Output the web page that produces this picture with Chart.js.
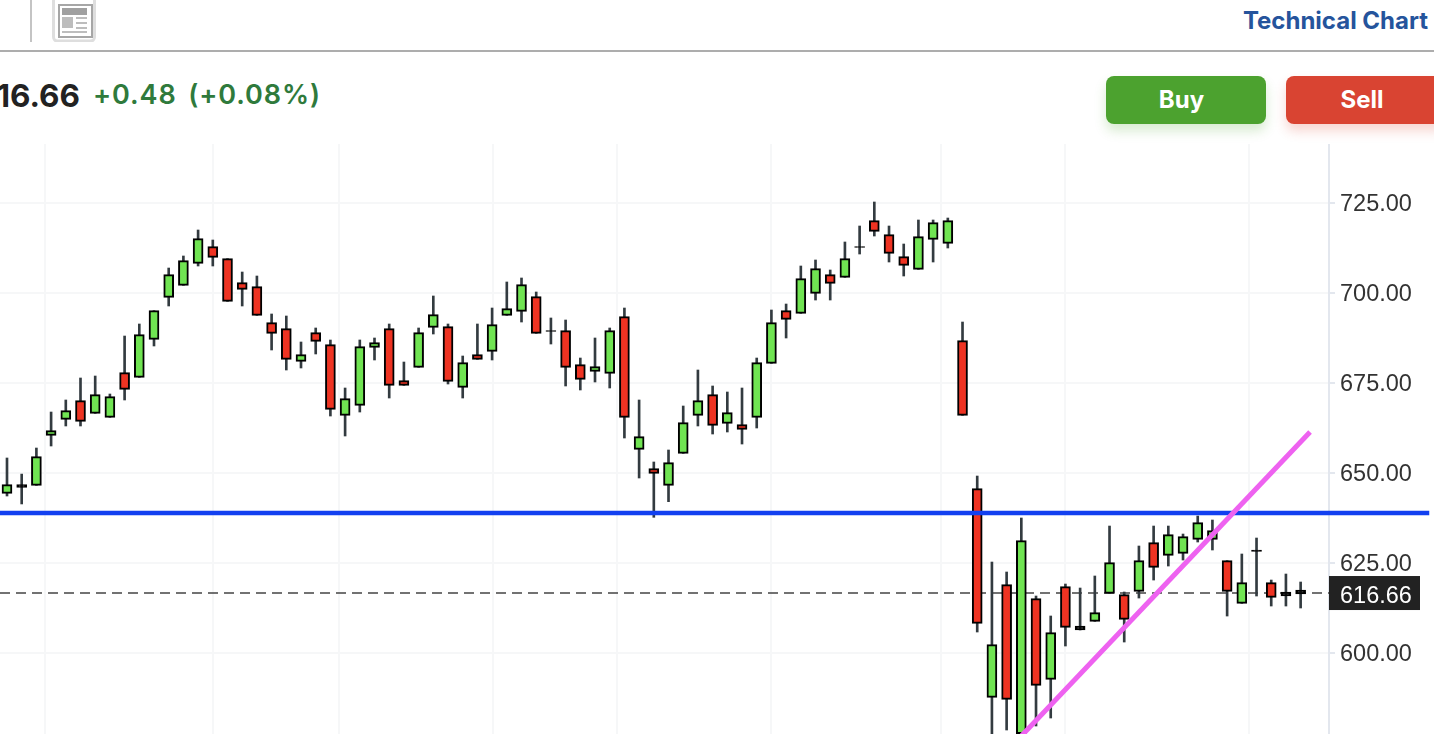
<!DOCTYPE html>
<html>
<head>
<meta charset="utf-8">
<title>Technical Chart</title>
<script src="https://cdn.jsdelivr.net/npm/chart.js@4"></script>
<style>
  html, body { margin: 0; padding: 0; background: #fff; overflow: hidden; width: 1434px; height: 734px; font-family: Inter, sans-serif; }
  .abs { position: absolute; white-space: nowrap; }
  #divider { left: 30px; top: 0; width: 2px; height: 42px; background: #c4c4c4; }
  #icon { left: 52px; top: -4px; width: 44px; height: 46px; }
  #rule { left: 0; top: 50px; width: 1434px; height: 2px; background: #adadad; }
  #title { right: 6px; top: 6px; font-size: 24px; font-weight: 700; color: #25549c; }
  #price { right: 1354px; top: 76px; font-size: 31.5px; font-weight: 700; color: #222; }
  #change { left: 93px; top: 78px; font-size: 27px; font-weight: 600; color: #2f7a3c; letter-spacing: 0.9px; word-spacing: 4px; }
  .btn { top: 76px; height: 48px; line-height: 48px; border-radius: 8px; color: #fff; font-size: 24px; font-weight: 700; text-align: center; }
  #buy { left: 1106px; width: 160px; padding-right: 9px; box-sizing: border-box; background: #4ca22f; box-shadow: 0 7px 12px rgba(76,162,47,.22); }
  #sell { left: 1286px; width: 160px; padding-right: 8px; box-sizing: border-box; background: #d94432; box-shadow: 0 7px 12px rgba(217,68,50,.22); }
  #wrap { left: 0; top: 144px; width: 1434px; height: 590px; }
</style>
</head>
<body>
<div class="abs" id="divider"></div>
<svg class="abs" id="icon" viewBox="0 0 44 46">
  <rect x="1.5" y="1" width="41" height="44" rx="4" fill="#fff" stroke="#dedede" stroke-width="3"/>
  <rect x="7" y="9" width="33" height="32" fill="none" stroke="#a6a6a6" stroke-width="2"/>
  <rect x="10" y="12" width="25" height="7" fill="#a0a0a0"/>
  <rect x="10" y="21" width="11" height="11" fill="#bdbdbd"/>
  <rect x="24" y="21" width="11" height="2" fill="#bdbdbd"/>
  <rect x="24" y="26" width="11" height="2" fill="#bdbdbd"/>
  <rect x="24" y="31" width="11" height="2" fill="#bdbdbd"/>
  <rect x="10" y="35" width="25" height="2" fill="#bdbdbd"/>
</svg>
<div class="abs" id="rule"></div>
<div class="abs" id="title">Technical Chart</div>
<div class="abs" id="price">616.66</div>
<div class="abs" id="change">+0.48 (+0.08%)</div>
<div class="abs btn" id="buy">Buy</div>
<div class="abs btn" id="sell">Sell</div>
<div class="abs" id="wrap"><canvas id="chart" width="1434" height="590"></canvas></div>

<script>
const candleOpen = [644.35,646.76,646.57,660.46,664.91,670.09,666.57,665.46,677.87,676.57,687.13,698.8,702.13,708.24,712.87,709.54,702.87,701.76,691.76,690.09,681.02,688.98,685.65,
  666.02,668.8,684.91,690.09,675.65,679.35,690.46,690.65,673.8,682.87,683.8,693.8,694.91,698.98,689.54,689.54,680.09,678.24,677.68,693.43,656.57,651.2,
  646.57,655.46,666.02,671.76,663.8,663.43,665.46,680.46,695.09,694.35,699.91,705.09,704.35,712.69,720.09,716.2,710.09,706.57,714.91,713.8,686.76,
  645.65,587.68,618.98,577.6,615.09,592.68,618.42,607.5,608.79,616.57,616.2,617.13,630.64,627.13,627.68,631.57,631.57,625.65,613.79,628.61,619.53,616.94,617.5];
const candleHigh = [654.17,649.7,656.94,666.94,670.28,676.39,676.94,671.94,688.05,691.39,695.09,706.94,710.28,717.5,714.72,709.54,705.83,704.72,694.17,693.61,686.39,690.28,686.94,
  673.61,686.95,687.5,691.39,680.83,690.28,699.17,691.39,682.5,691.39,695.83,703.06,704.17,700.28,693.06,692.5,681.94,687.5,690.28,695.83,670.28,653.06,
  656.39,668.61,678.61,674.17,672.5,673.61,681.94,695.28,696.94,707.5,709.17,706.39,714.17,718.61,725.28,718.61,713.61,720.28,720.28,720.83,691.94,
  649.16,625.27,622.5,637.5,615.83,610.28,619.16,618.05,621.39,635.27,616.94,629.72,635.27,635.27,633.05,638.05,636.94,625.65,627.5,631.94,620.27,621.94,619.72];
const candleLow = [643.61,641.4,646.57,657.5,663.06,663.06,666.57,665.46,670.28,676.57,685.28,696.39,702.13,707.5,707.5,697.68,696.39,693.79,684.17,678.61,679.17,683.06,665.83,
  660.28,666.94,681.39,670.83,674.35,679.35,688.61,674.72,670.83,681.57,681.39,693.8,691.94,688.8,685.83,674.17,673.06,675.28,673.61,659.72,648.61,637.69,
  642.04,655.46,663.06,660.83,661.39,658.05,662.5,680.46,687.5,694.35,698.05,698.05,704.35,710.83,715.83,708.61,704.72,706.57,708.61,712.5,666.02,
  605.83,575,578.61,575,579.72,581.94,601.94,606.39,608.79,616.57,603.05,615.27,620.27,624.16,625.83,630.83,628.61,610.27,613.79,615.83,613.05,613.05,612.5];
const candleClose = [646.76,646.0,654.54,661.76,667.31,664.35,671.76,671.2,673.24,688.42,695.09,705.09,708.98,715.09,709.91,697.68,701.02,693.79,688.79,681.57,682.87,686.57,667.68,
  670.65,685.09,686.2,674.35,674.35,688.98,693.98,675.46,680.65,681.57,691.2,695.65,702.31,688.8,689.35,679.35,676.02,679.54,689.54,665.46,660.09,649.91,
  652.87,663.98,670.09,663.24,666.76,662.13,680.65,691.76,692.68,703.98,706.76,702.68,709.54,712.87,717.13,711.02,707.68,715.65,719.54,720.09,666.02,
  608.24,602.31,587.13,631.2,591.02,605.65,607.13,606.39,611.2,625.09,609.35,625.65,623.79,632.87,632.31,636.2,633.98,617.13,619.53,628.24,615.46,615.83,616.39];
const yTicks = [600, 625, 650, 675, 700, 725];
const gridCandles = [2.58, 14, 22.58, 33.06, 41.5, 52, 63.54, 72, 84.5];
const lastPrice = 616.66;
const supportLevel = 638.9;
const trendX = [67.15, 88.64];
const trendY = [569, 661.4];

const upColor = '#70e452';
const downColor = '#ee3322';
const dojiColor = '#000';
const xMin = -0.476, xMax = 89.93;

function bodyColor(o, c) {
  if (Math.abs(c - o) < 1.2) return dojiColor; // too flat to show any fill
  return c >= o ? upColor : downColor;
}

// chart.js centres tick text a bit high for this font, so the axis labels and
// the last price box are written here
const axisLabels = {
  id: 'axisLabels',
  afterDraw(chart) {
    const ctx = chart.ctx;
    const scale = chart.scales.y;
    const left = chart.chartArea.right;
    ctx.save();
    ctx.font = '23.5px "Liberation Sans"';
    ctx.textAlign = 'left';
    ctx.textBaseline = 'middle';
    ctx.fillStyle = '#333';
    scale.ticks.forEach((t) => {
      ctx.fillText(t.value.toFixed(2), left + 11, scale.getPixelForValue(t.value) + 2);
    });
    const y = scale.getPixelForValue(lastPrice);
    ctx.fillStyle = '#222';
    ctx.fillRect(left, y - 17, 91, 34);
    ctx.fillStyle = '#fff';
    ctx.fillText(lastPrice.toFixed(2), left + 11, y + 3);
    ctx.restore();
  }
};

new Chart(document.getElementById('chart').getContext('2d'), {
  type: 'bar',
  data: {
    datasets: [
      {
        type: 'line',
        order: 1,
        data: [{ x: trendX[0], y: trendY[0] }, { x: trendX[1], y: trendY[1] }],
        borderColor: '#ee62f0',
        borderWidth: 5,
        pointRadius: 0
      },
      {
        type: 'line',
        order: 2,
        clip: false,
        data: [{ x: xMin, y: supportLevel }, { x: 96.75, y: supportLevel }],
        borderColor: '#1240f0',
        borderWidth: 4.5,
        pointRadius: 0
      },
      {
        order: 3,
        grouped: false,
        data: candleOpen.map((o, i) => ({ x: i, y: [o, candleClose[i]] })),
        backgroundColor: candleOpen.map((o, i) => bodyColor(o, candleClose[i])),
        borderColor: '#000',
        borderWidth: 2,
        borderSkipped: false,
        barThickness: 10
      },
      {
        order: 4,
        grouped: false,
        data: candleHigh.map((h, i) => ({ x: i, y: [candleLow[i], h] })),
        backgroundColor: '#333b40',
        barThickness: 2
      },
      {
        type: 'line',
        order: 5,
        data: [{ x: xMin, y: lastPrice }, { x: xMax, y: lastPrice }],
        borderColor: '#444',
        borderWidth: 1.5,
        borderDash: [10, 6],
        pointRadius: 0
      }
    ]
  },
  options: {
    responsive: false,
    animation: false,
    layout: { padding: 0, autoPadding: false },
    plugins: { legend: { display: false }, tooltip: { enabled: false } },
    scales: {
      x: {
        type: 'linear',
        offset: false,
        min: xMin,
        max: xMax,
        afterBuildTicks: (scale) => { scale.ticks = gridCandles.map((v) => ({ value: v })); },
        ticks: { display: false, autoSkip: false },
        grid: { color: '#f6f7f8', lineWidth: 2, drawTicks: false, offset: false },
        border: { display: false }
      },
      y: {
        position: 'right',
        min: 577.5,
        max: 741.39,
        afterFit: (scale) => {
          scale.width = 105;
          scale.paddingTop = 0;
          scale.paddingBottom = 0;
        },
        afterBuildTicks: (scale) => { scale.ticks = yTicks.map((v) => ({ value: v })); },
        ticks: { display: false, autoSkip: false },
        grid: { color: '#f6f7f8', tickColor: '#e3e7ee', lineWidth: 2, tickLength: 6 },
        border: { color: '#e3e7ee', width: 2 }
      }
    }
  },
  plugins: [axisLabels]
});
</script>
</body>
</html>
